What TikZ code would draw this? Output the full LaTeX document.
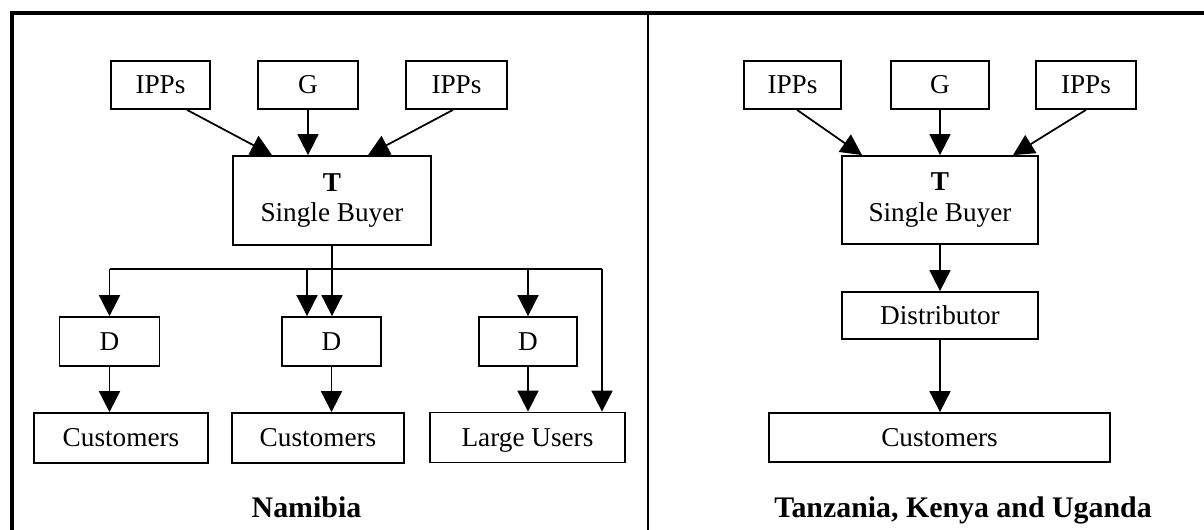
\documentclass[tikz,border=0pt]{standalone}
\usepackage{fontspec}
\setmainfont{Liberation Serif}
\usetikzlibrary{arrows.meta}

\begin{document}
\begin{tikzpicture}[
		box/.style={draw, line width=1pt, inner sep=0pt, minimum height=0.96cm, font=\fontsize{15.5}{17.5}\selectfont},
		onebox/.style={box, text height=11pt, text depth=1pt},
		flow/.style={line width=1pt, -{Triangle[length=4.2mm,width=4.2mm]}},
		title/.style={anchor=base, font=\fontsize{17}{20}\selectfont\bfseries}
	]
		\useasboundingbox (0,0) rectangle (24.08,-10.6);
		% frame and divider
		\draw[line width=2pt] (24.08,-0.26) -- (0.24,-0.26) -- (0.24,-10.6);
		\draw[line width=0.9pt] (12.96,-0.26) -- (12.96,-10.6);
		% left market
		\node[onebox, minimum width=1.98cm] (ippA) at (3.21,-1.70) {IPPs};
		\node[onebox, minimum width=2cm] (genA) at (6.16,-1.70) {G};
		\node[onebox, minimum width=2.02cm] (ippB) at (9.13,-1.70) {IPPs};
		\node[box, minimum width=3.96cm, minimum height=1.78cm, align=center] (tA) at (6.64,-4.01) {\textbf{T}\\Single Buyer};
		\node[onebox, minimum width=2cm, minimum height=0.98cm] (dA1) at (2.19,-6.83) {D};
		\node[onebox, minimum width=1.98cm, minimum height=0.98cm] (dA2) at (6.63,-6.83) {D};
		\node[onebox, minimum width=1.96cm, minimum height=0.98cm] (dA3) at (10.56,-6.83) {D};
		\node[onebox, minimum width=3.48cm, minimum height=1cm] (cA1) at (2.42,-8.76) {Customers};
		\node[onebox, minimum width=3.44cm, minimum height=1cm] (cA2) at (6.36,-8.76) {Customers};
		\node[onebox, minimum width=3.9cm, minimum height=1cm] (cA3) at (10.55,-8.75) {Large Users};
		\coordinate (busL) at (2.19,-5.38);
		\coordinate (busM) at (6.14,-5.38);
		\coordinate (busR) at (12.04,-5.38);
		\draw[flow] ([xshift=0.53cm]ippA.south) -- ([xshift=-1.2cm]tA.north);
		\draw[flow] (genA.south) -- (genA.south |- tA.north);
		\draw[flow] ([xshift=-0.07cm]ippB.south) -- ([xshift=0.72cm]tA.north);
		\draw[line width=1pt] (busL) -- (busR);
		\draw[flow] (tA.south) -- (tA.south |- dA2.north);
		\draw[flow] (busL) -- (dA1.north);
		\draw[flow] (busM) -- (busM |- dA2.north);
		\draw[flow] (dA3.north |- busL) -- (dA3.north);
		\draw[flow] (busR) -- (busR |- cA3.north);
		\draw[flow] (dA1.south) -- (dA1.south |- cA1.north);
		\draw[flow] (dA2.south) -- (dA2.south |- cA2.north);
		\draw[flow] (dA3.south) -- (dA3.south |- cA3.north);
		\node[title] (namibia) at (6.13,-10.34) {Namibia};
		% right market
		\node[onebox, minimum width=1.94cm] (ippC) at (15.85,-1.70) {IPPs};
		\node[onebox, minimum width=1.96cm] (genB) at (18.80,-1.70) {G};
		\node[onebox, minimum width=2cm] (ippD) at (21.72,-1.70) {IPPs};
		\node[box, minimum width=3.92cm, minimum height=1.76cm, align=center] (tB) at (18.80,-4.00) {\textbf{T}\\Single Buyer};
		\node[onebox, minimum width=3.92cm, minimum height=0.94cm] (dist) at (18.80,-6.31) {Distributor};
		\node[onebox, minimum width=6.82cm, minimum height=0.98cm] (cB) at (18.79,-8.75) {Customers};
		\draw[flow] ([xshift=0.09cm]ippC.south) -- ([xshift=-1.56cm]tB.north);
		\draw[flow] (genB.south) -- (tB.north);
		\draw[flow] (ippD.south) -- ([xshift=1.46cm]tB.north);
		\draw[flow] (tB.south) -- (dist.north);
		\draw[flow] (dist.south) -- (dist.south |- cB.north);
		\node[title] (tky) at (19.26,-10.34) {Tanzania, Kenya and Uganda};
	\end{tikzpicture}
\end{document}
